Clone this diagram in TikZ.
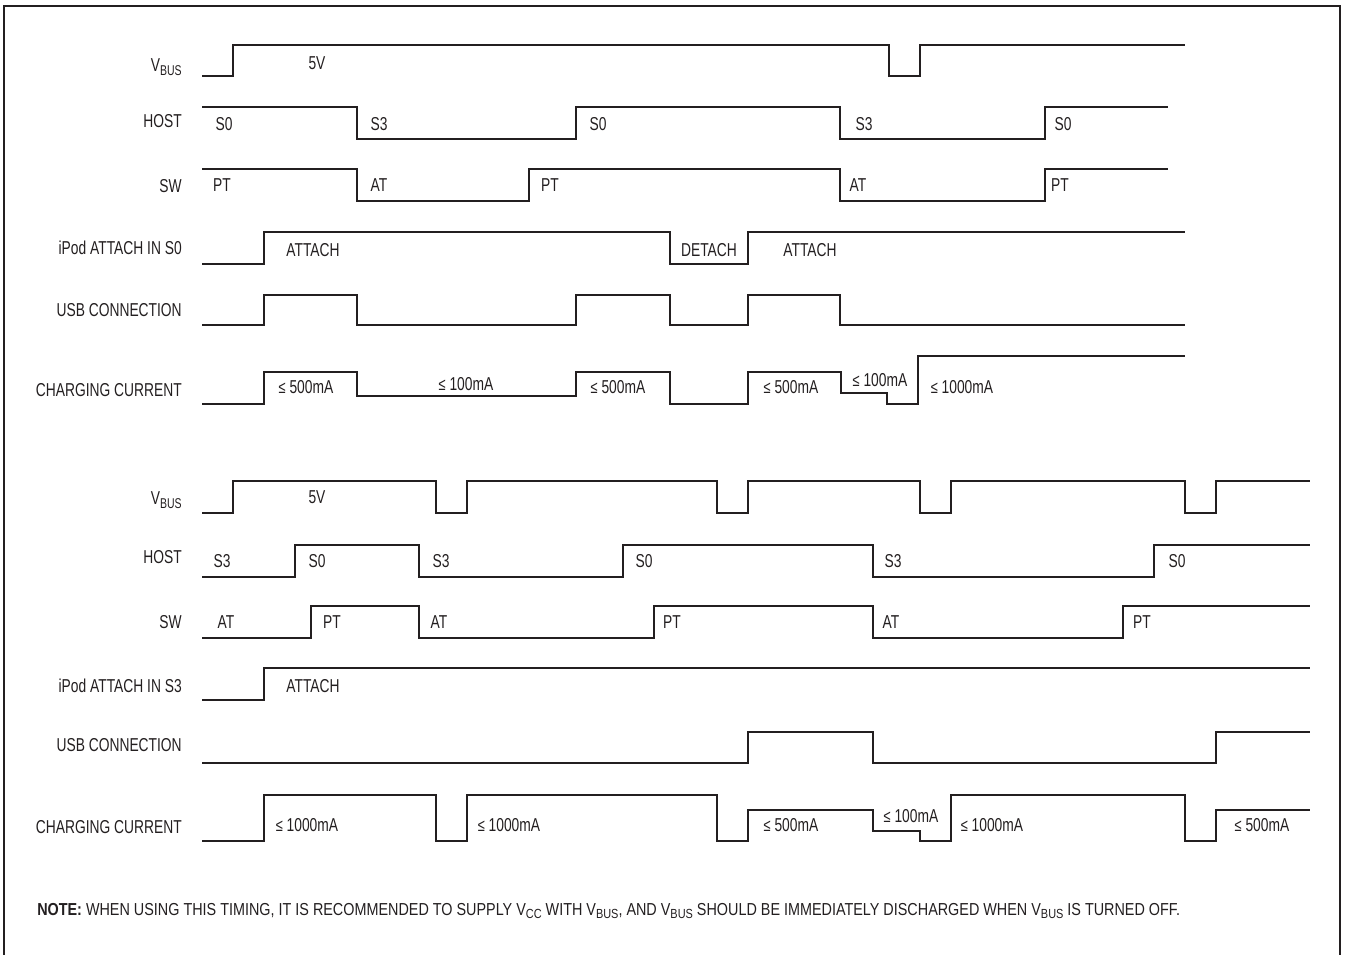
\documentclass[tikz,border=0pt]{standalone}
\usepackage{fontspec}
\setmainfont[FakeStretch=0.74]{Liberation Sans}
\newfontfamily\notefont[FakeStretch=0.83]{Liberation Sans}
\usepackage{xcolor}
\usetikzlibrary{positioning}

\definecolor{inkgray}{HTML}{231F20}
\newcommand\lesign{{\fontsize{13}{13}\selectfont ≤}\hspace{0.2em}}
\newcommand\subtxt[1]{\raisebox{-0.22em}{\fontsize{0.76em}{1em}\selectfont #1}}
\newcommand\vbus{V\subtxt{BUS}}

\tikzset{
    wave/.style={draw=inkgray, line width=1pt},
    signame/.style={anchor=east, text=inkgray, inner sep=0pt, font=\fontsize{14}{16}\selectfont},
    lvl/.style={text=inkgray, inner sep=0pt, font=\fontsize{14}{16}\selectfont}
}

\begin{document}
\begin{tikzpicture}[x=0.75pt, y=-0.75pt]
    \useasboundingbox (0, 0) rectangle (1345, 955);
    \draw[draw=inkgray, line width=1.1pt] (4, 960) -- (4, 6) -- (1340, 6) -- (1340, 960);

    % upper chart: iPod attach in S0
    \node[signame] (vbusa) at (182, 67) {\vbus};
    \node[signame] (hosta) at (182, 121) {HOST};
    \node[signame] (swa) at (182, 186) {SW};
    \node[signame] (ipoda) at (182, 248) {iPod ATTACH IN S0};
    \node[signame] (usba) at (182, 310) {USB CONNECTION};
    \node[signame] (chga) at (182, 390) {CHARGING CURRENT};

    \draw[wave] (202, 76) -| (233, 45) -| (889, 76) -| (920, 45) -- (1185, 45);
    \draw[wave] (202, 107) -| (357, 139) -| (576, 107) -| (840, 139) -| (1045, 107) -- (1168, 107);
    \draw[wave] (202, 169) -| (357, 201) -| (529, 169) -| (840, 201) -| (1045, 169) -- (1168, 169);
    \draw[wave] (202, 264) -| (264, 232) -| (670, 264) -| (748, 232) -- (1185, 232);
    \draw[wave] (202, 325) -| (264, 295) -| (357, 325) -| (576, 295) -| (670, 325) -| (748, 295) -| (840, 325) -- (1185, 325);
    \draw[wave] (202, 404) -| (264, 372) -| (357, 396) -| (576, 372) -| (670, 404) -| (748, 372) -| (841, 393) -| (887, 404) -| (918, 356) -- (1185, 356);

    \node[lvl] (v5a) at (317, 63) {5V};
    \node[lvl] (ha1) at (224, 124) {S0};
    \node[lvl] (ha2) at (379, 124) {S3};
    \node[lvl] (ha3) at (598, 124) {S0};
    \node[lvl] (ha4) at (864, 124) {S3};
    \node[lvl] (ha5) at (1063, 124) {S0};
    \node[lvl] (sa1) at (222, 185) {PT};
    \node[lvl] (sa2) at (379, 185) {AT};
    \node[lvl] (sa3) at (550, 185) {PT};
    \node[lvl] (sa4) at (858, 185) {AT};
    \node[lvl] (sa5) at (1060, 185) {PT};
    \node[lvl] (ia1) at (313, 250) {ATTACH};
    \node[lvl] (ia2) at (709, 250) {DETACH};
    \node[lvl] (ia3) at (810, 250) {ATTACH};
    \node[lvl] (ca1) at (306, 387) {\lesign500mA};
    \node[lvl] (ca2) at (466, 384) {\lesign100mA};
    \node[lvl] (ca3) at (618, 387) {\lesign500mA};
    \node[lvl] (ca4) at (791, 387) {\lesign500mA};
    \node[lvl] (ca5) at (880, 380) {\lesign100mA};
    \node[lvl] (ca6) at (962, 387) {\lesign1000mA};

    % lower chart: iPod attach in S3
    \node[signame] (vbusb) at (182, 500) {\vbus};
    \node[signame] (hostb) at (182, 557) {HOST};
    \node[signame] (swb) at (182, 622) {SW};
    \node[signame] (ipodb) at (182, 686) {iPod ATTACH IN S3};
    \node[signame] (usbb) at (182, 745) {USB CONNECTION};
    \node[signame] (chgb) at (182, 827) {CHARGING CURRENT};

    \draw[wave] (202, 513) -| (233, 481) -| (436, 513) -| (467, 481) -| (717, 513) -| (748, 481) -| (920, 513) -| (951, 481) -| (1185, 513) -| (1216, 481) -- (1310, 481);
    \draw[wave] (202, 577) -| (295, 545) -| (419, 577) -| (623, 545) -| (873, 577) -| (1154, 545) -- (1310, 545);
    \draw[wave] (202, 638) -| (311, 606) -| (419, 638) -| (654, 606) -| (873, 638) -| (1123, 606) -- (1310, 606);
    \draw[wave] (202, 700) -| (264, 668) -- (1310, 668);
    \draw[wave] (202, 763) -| (748, 732) -| (873, 763) -| (1216, 732) -- (1310, 732);
    \draw[wave] (202, 841) -| (264, 795) -| (436, 841) -| (467, 795) -| (717, 841) -| (748, 810) -| (873, 831) -| (920, 841) -| (951, 795) -| (1185, 841) -| (1216, 810) -- (1310, 810);

    \node[lvl] (v5b) at (317, 497) {5V};
    \node[lvl] (hb1) at (222, 561) {S3};
    \node[lvl] (hb2) at (317, 561) {S0};
    \node[lvl] (hb3) at (441, 561) {S3};
    \node[lvl] (hb4) at (644, 561) {S0};
    \node[lvl] (hb5) at (893, 561) {S3};
    \node[lvl] (hb6) at (1177, 561) {S0};
    \node[lvl] (sb1) at (226, 622) {AT};
    \node[lvl] (sb2) at (332, 622) {PT};
    \node[lvl] (sb3) at (439, 622) {AT};
    \node[lvl] (sb4) at (672, 622) {PT};
    \node[lvl] (sb5) at (891, 622) {AT};
    \node[lvl] (sb6) at (1142, 622) {PT};
    \node[lvl] (ib1) at (313, 686) {ATTACH};
    \node[lvl] (cb1) at (307, 825) {\lesign1000mA};
    \node[lvl] (cb2) at (509, 825) {\lesign1000mA};
    \node[lvl] (cb3) at (791, 825) {\lesign500mA};
    \node[lvl] (cb4) at (911, 816) {\lesign100mA};
    \node[lvl] (cb5) at (992, 825) {\lesign1000mA};
    \node[lvl] (cb6) at (1262, 825) {\lesign500mA};

    % note
    \node[anchor=west, text=inkgray, inner sep=0pt, font=\notefont\fontsize{13}{15}\selectfont] (note) at (37, 911)
        {\textbf{NOTE:} WHEN USING THIS TIMING, IT IS RECOMMENDED TO SUPPLY V\subtxt{CC} WITH \vbus, AND \vbus\ SHOULD BE IMMEDIATELY DISCHARGED WHEN \vbus\ IS TURNED OFF.};
\end{tikzpicture}
\end{document}
